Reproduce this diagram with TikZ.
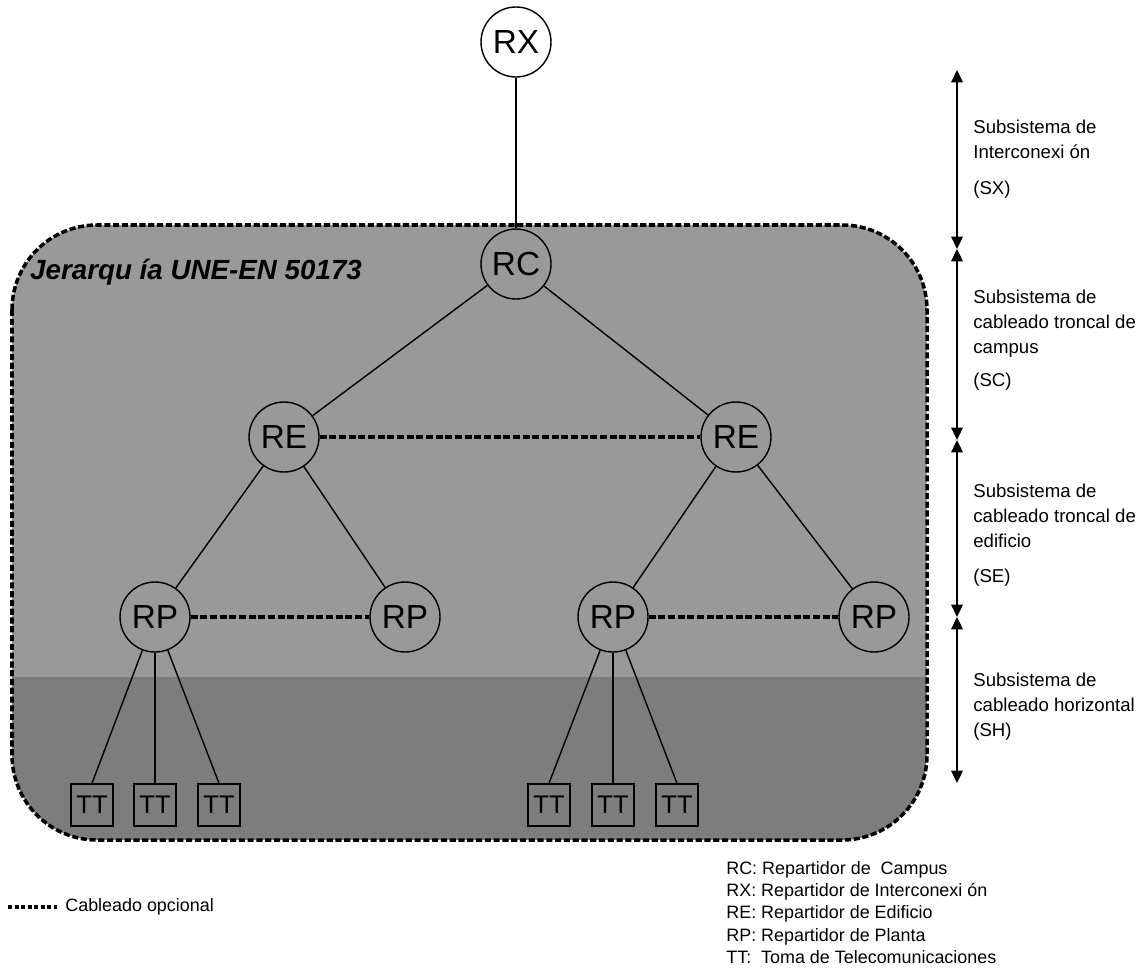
\documentclass[tikz,border=0pt]{standalone}
\usepackage{fontspec}
\setmainfont{Liberation Sans}
\usepackage{tikz}
\usetikzlibrary{arrows.meta}
\usepackage{xcolor}

\definecolor{zonasup}{gray}{0.6}
\definecolor{zonainf}{gray}{0.49}

\begin{document}
\begin{tikzpicture}[x=0.02cm,y=-0.02cm,
  repartidor/.style={circle,draw=black,line width=0.8pt,inner sep=0pt,minimum size=1.4cm,font=\fontsize{19}{20}\selectfont},
  toma/.style={rectangle,draw=black,line width=0.8pt,inner sep=0pt,minimum size=0.84cm,font=\fontsize{14.5}{15}\selectfont},
  enlace/.style={line width=0.8pt},
  opcional/.style={line width=1.8pt,dash pattern=on 4pt off 1.5pt},
  nivel/.style={line width=1.1pt,{Triangle[width=6.5pt,length=7pt]}-{Triangle[width=6.5pt,length=7pt]}},
  rotulo/.style={anchor=north west,align=left,inner sep=0pt,font=\fontsize{10.6}{14.2}\selectfont},
  leyenda/.style={inner sep=0pt,font=\fontsize{10.2}{12.7}\selectfont}]
  \useasboundingbox (0,0) rectangle (1146,970);
  \begin{scope}
    \clip[rounded corners=1.7cm] (12,225) rectangle (927,840);
    \fill[zonasup] (12,225) rectangle (927,677);
    \fill[zonainf] (12,677) rectangle (927,840);
  \end{scope}
  \draw[line width=2pt,dash pattern=on 3.5pt off 1.5pt,rounded corners=1.7cm] (12,225) rectangle (927,840);
  \node[anchor=west,font=\fontsize{15.8}{18}\selectfont\bfseries\itshape] (titulo) at (24,272) {Jerarqu ía UNE-EN 50173};

  \node[repartidor,fill=white] (RX) at (516,42) {RX};
  \node[repartidor] (RC) at (516,264) {RC};
  \node[repartidor] (REa) at (284,437) {RE};
  \node[repartidor] (REb) at (736,437) {RE};
  \node[repartidor] (RPa) at (155,617) {RP};
  \node[repartidor] (RPb) at (405,617) {RP};
  \node[repartidor] (RPc) at (613,617) {RP};
  \node[repartidor] (RPd) at (874,617) {RP};
  \node[toma] (TTa) at (92,805) {TT};
  \node[toma] (TTb) at (155,805) {TT};
  \node[toma] (TTc) at (219,805) {TT};
  \node[toma] (TTd) at (549,805) {TT};
  \node[toma] (TTe) at (613,805) {TT};
  \node[toma] (TTf) at (677,805) {TT};

  \draw[enlace] (RX) -- (RC);
  \draw[enlace] (RC) -- (REa);
  \draw[enlace] (RC) -- (REb);
  \draw[enlace] (REa) -- (RPa);
  \draw[enlace] (REa) -- (RPb);
  \draw[enlace] (REb) -- (RPc);
  \draw[enlace] (REb) -- (RPd);
  \draw[enlace] (RPa) -- (TTa.north);
  \draw[enlace] (RPa) -- (TTb.north);
  \draw[enlace] (RPa) -- (TTc.north);
  \draw[enlace] (RPc) -- (TTd.north);
  \draw[enlace] (RPc) -- (TTe.north);
  \draw[enlace] (RPc) -- (TTf.north);
  \draw[opcional] (REa) -- (REb);
  \draw[opcional] (RPa) -- (RPb);
  \draw[opcional] (RPc) -- (RPd);

  \coordinate (n0) at (957,70);
  \coordinate (n1) at (957,249);
  \coordinate (n2) at (957,440);
  \coordinate (n3) at (957,617);
  \coordinate (n4) at (957,783);
  \draw[nivel] (n0) -- (n1);
  \draw[nivel] (n1) -- (n2);
  \draw[nivel] (n2) -- (n3);
  \draw[nivel] (n3) -- (n4);
  \node[rotulo] (SX) at (973,120) {Subsistema de\\Interconexi ón\\[6pt](SX)};
  \node[rotulo] (SC) at (973,290) {Subsistema de\\cableado troncal de\\campus\\[4.3pt](SC)};
  \node[rotulo] (SE) at (973,484) {Subsistema de\\cableado troncal de\\edificio\\[5.7pt](SE)};
  \node[rotulo] (SH) at (973,673) {Subsistema de\\cableado horizontal\\(SH)};

  \coordinate (opa) at (8,907);
  \coordinate (opb) at (57,907);
  \draw[line width=1.8pt,dash pattern=on 2.5pt off 1.2pt] (opa) -- (opb);
  \node[leyenda,anchor=west] (opcion) at (65,907) {Cableado opcional};
  \node[leyenda,anchor=north west,align=left] (siglas) at (726,861) {RC: Repartidor de\ \ Campus\\RX: Repartidor de Interconexi ón\\RE: Repartidor de Edificio\\RP: Repartidor de Planta\\TT:\ \ Toma de Telecomunicaciones};
\end{tikzpicture}
\end{document}
